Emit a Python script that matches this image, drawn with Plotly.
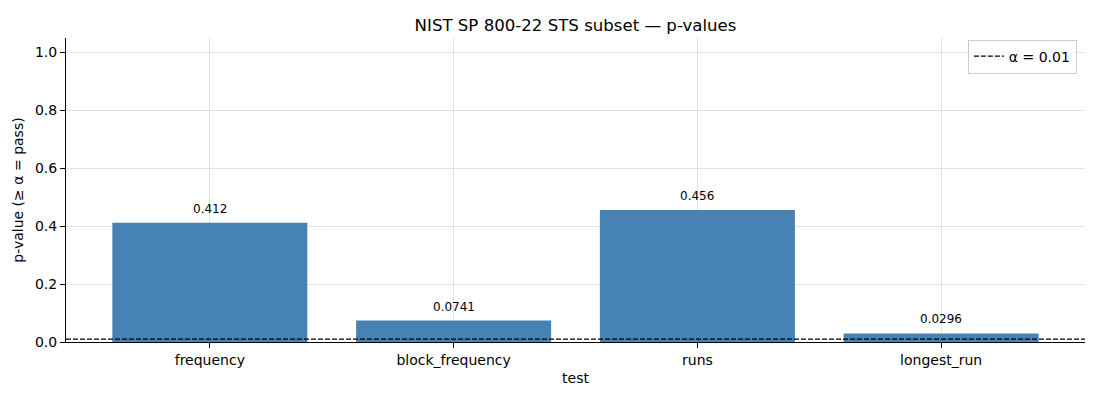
# p-values of the STS subset as bars, alpha as dashed line
import plotly.graph_objects as go

tests = ["frequency", "block_frequency", "runs", "longest_run"]
p_values = [0.412, 0.0741, 0.456, 0.0296]
alpha = 0.01

bar_color = "#4682b4"
grid_color = "rgba(176,176,176,0.35)"
font_family = "DejaVu Sans, sans-serif"

fig = go.Figure()

fig.add_bar(
    x=tests, y=p_values,
    marker=dict(color=bar_color, line=dict(width=0)),
    width=0.8,
    showlegend=False,
)

# value labels above the bars
for t, v in zip(tests, p_values):
    fig.add_annotation(x=t, y=v, text=f"{v:.3g}", showarrow=False,
                       yanchor="bottom", yshift=5,
                       font=dict(size=12, color="black"))

# alpha threshold over the full width
fig.add_hline(y=alpha, line=dict(color="black", width=1.2, dash="5px,2px"))

# legend entry only
fig.add_scatter(
    x=[None], y=[None], mode="lines",
    line=dict(color="black", width=1.2, dash="5px,2px"),
    name="α = 0.01",
)

fig.update_layout(
    width=1100, height=400,
    margin=dict(l=66, r=15, t=38, b=58),
    paper_bgcolor="white", plot_bgcolor="white",
    font=dict(family=font_family, size=14, color="black"),
    title=dict(text="NIST SP 800-22 STS subset — p-values",
               x=0.5, xref="paper", xanchor="center",
               y=1, yref="paper", yanchor="bottom", pad=dict(b=7),
               font=dict(size=16.6)),
    legend=dict(x=0.992, xanchor="right", y=0.995, yanchor="top",
                bordercolor="#cccccc", borderwidth=1,
                bgcolor="rgba(255,255,255,0.8)", font=dict(size=14)),
)

fig.update_xaxes(
    title=dict(text="test", font=dict(size=14), standoff=6),
    range=[-0.59, 3.59],
    showline=True, linecolor="black", linewidth=1,
    ticks="outside", ticklen=5, tickcolor="black",
    showgrid=True, gridcolor=grid_color, gridwidth=1,
    layer="above traces",
    zeroline=False,
)
fig.update_yaxes(
    title=dict(text="p-value (≥ α = pass)", font=dict(size=14), standoff=8),
    range=[0, 1.05],
    tickvals=[0, 0.2, 0.4, 0.6, 0.8, 1.0],
    tickformat=".1f",
    showline=True, linecolor="black", linewidth=1,
    ticks="outside", ticklen=5, tickcolor="black",
    showgrid=True, gridcolor=grid_color, gridwidth=1,
    layer="above traces",
    zeroline=False,
)

# drop the default page margin so the figure sits at the window corner
fig.write_html("out.html", config={"displayModeBar": False},
               post_script="document.body.style.margin='0';")
